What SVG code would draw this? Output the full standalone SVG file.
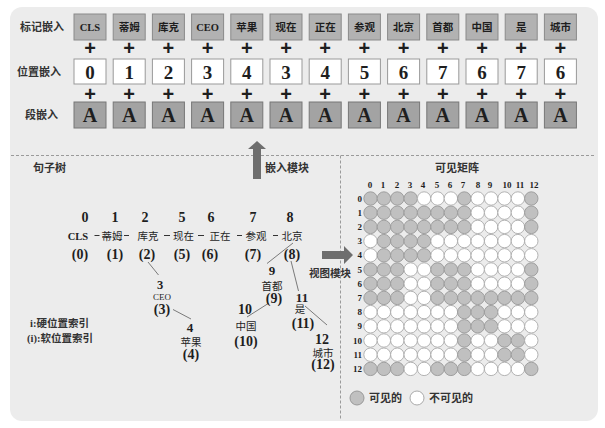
<svg xmlns="http://www.w3.org/2000/svg" xmlns:xlink="http://www.w3.org/1999/xlink" width="605" height="428" viewBox="0 0 605 428">
<style>
text{font-family:"Liberation Serif","Noto Sans CJK SC",serif;fill:#1e1e1e}
.lab{font-size:11px;font-weight:bold;fill:#333}
.tok{fill:#b2b2b2;stroke:#8a8a8a;stroke-width:1}
.pos{fill:#fff;stroke:#999;stroke-width:1}
.seg{fill:#a3a3a3;stroke:#777;stroke-width:1}
.tt{font-size:10.5px;font-weight:bold;text-anchor:middle}
.pt{font-size:19px;font-weight:bold;text-anchor:middle}
.st{font-size:20px;font-weight:bold;text-anchor:middle}
.plus{font-family:"Liberation Sans",sans-serif;font-size:20px;font-weight:bold;text-anchor:middle}
.hi{font-size:14px;font-weight:bold;text-anchor:middle}
.wd{font-size:10.5px;text-anchor:middle}
.si{font-size:14px;font-weight:bold;text-anchor:middle}
.edge{stroke:#7a7a7a;stroke-width:1;fill:none}
.dash{stroke:#333;stroke-width:1}
.div{stroke:#9a9a9a;stroke-width:1;stroke-dasharray:3 2;fill:none}
.arr{fill:#6e6e6e}
.ml{font-size:9px;font-weight:bold;text-anchor:middle}
.rl{font-size:9px;font-weight:bold;text-anchor:end}
</style>
<defs>
<circle id="G" r="6.7" fill="#c0c0c0" stroke="#999" stroke-width="0.9"/>
<circle id="W" r="6.7" fill="#fff" stroke="#aaa" stroke-width="0.9"/>
</defs>
<rect x="10" y="7" width="588" height="414" rx="12" fill="#ececec"/>

<!-- embedding rows -->
<g id="labels">
<text class="lab" x="20" y="31">标记嵌入</text>
<text class="lab" x="17" y="76">位置嵌入</text>
<text class="lab" x="25" y="119">段嵌入</text>
</g>
<g id="token-row">
<g id="tok0"><rect class="tok" x="74" y="14" width="32" height="26"/><text class="tt" x="90" y="31">CLS</text></g>
<g id="tok1"><rect class="tok" x="113.2" y="14" width="32" height="26"/><text class="tt" x="129.2" y="31">蒂姆</text></g>
<g id="tok2"><rect class="tok" x="152.4" y="14" width="32" height="26"/><text class="tt" x="168.4" y="31">库克</text></g>
<g id="tok3"><rect class="tok" x="191.6" y="14" width="32" height="26"/><text class="tt" x="207.6" y="31">CEO</text></g>
<g id="tok4"><rect class="tok" x="230.8" y="14" width="32" height="26"/><text class="tt" x="246.8" y="31">苹果</text></g>
<g id="tok5"><rect class="tok" x="270" y="14" width="32" height="26"/><text class="tt" x="286" y="31">现在</text></g>
<g id="tok6"><rect class="tok" x="309.2" y="14" width="32" height="26"/><text class="tt" x="325.2" y="31">正在</text></g>
<g id="tok7"><rect class="tok" x="348.4" y="14" width="32" height="26"/><text class="tt" x="364.4" y="31">参观</text></g>
<g id="tok8"><rect class="tok" x="387.6" y="14" width="32" height="26"/><text class="tt" x="403.6" y="31">北京</text></g>
<g id="tok9"><rect class="tok" x="426.8" y="14" width="32" height="26"/><text class="tt" x="442.8" y="31">首都</text></g>
<g id="tok10"><rect class="tok" x="466" y="14" width="32" height="26"/><text class="tt" x="482" y="31">中国</text></g>
<g id="tok11"><rect class="tok" x="505.2" y="14" width="32" height="26"/><text class="tt" x="521.2" y="31">是</text></g>
<g id="tok12"><rect class="tok" x="544.4" y="14" width="32" height="26"/><text class="tt" x="560.4" y="31">城市</text></g>
</g>
<g id="plus-row1">
<text class="plus" x="90" y="55">+</text><text class="plus" x="129.2" y="55">+</text><text class="plus" x="168.4" y="55">+</text><text class="plus" x="207.6" y="55">+</text><text class="plus" x="246.8" y="55">+</text><text class="plus" x="286" y="55">+</text><text class="plus" x="325.2" y="55">+</text><text class="plus" x="364.4" y="55">+</text><text class="plus" x="403.6" y="55">+</text><text class="plus" x="442.8" y="55">+</text><text class="plus" x="482" y="55">+</text><text class="plus" x="521.2" y="55">+</text><text class="plus" x="560.4" y="55">+</text>
</g>
<g id="pos-row">
<g id="pos0"><rect class="pos" x="74" y="59" width="32" height="25"/><text class="pt" x="90" y="78.5">0</text></g>
<g id="pos1"><rect class="pos" x="113.2" y="59" width="32" height="25"/><text class="pt" x="129.2" y="78.5">1</text></g>
<g id="pos2"><rect class="pos" x="152.4" y="59" width="32" height="25"/><text class="pt" x="168.4" y="78.5">2</text></g>
<g id="pos3"><rect class="pos" x="191.6" y="59" width="32" height="25"/><text class="pt" x="207.6" y="78.5">3</text></g>
<g id="pos4"><rect class="pos" x="230.8" y="59" width="32" height="25"/><text class="pt" x="246.8" y="78.5">4</text></g>
<g id="pos5"><rect class="pos" x="270" y="59" width="32" height="25"/><text class="pt" x="286" y="78.5">3</text></g>
<g id="pos6"><rect class="pos" x="309.2" y="59" width="32" height="25"/><text class="pt" x="325.2" y="78.5">4</text></g>
<g id="pos7"><rect class="pos" x="348.4" y="59" width="32" height="25"/><text class="pt" x="364.4" y="78.5">5</text></g>
<g id="pos8"><rect class="pos" x="387.6" y="59" width="32" height="25"/><text class="pt" x="403.6" y="78.5">6</text></g>
<g id="pos9"><rect class="pos" x="426.8" y="59" width="32" height="25"/><text class="pt" x="442.8" y="78.5">7</text></g>
<g id="pos10"><rect class="pos" x="466" y="59" width="32" height="25"/><text class="pt" x="482" y="78.5">6</text></g>
<g id="pos11"><rect class="pos" x="505.2" y="59" width="32" height="25"/><text class="pt" x="521.2" y="78.5">7</text></g>
<g id="pos12"><rect class="pos" x="544.4" y="59" width="32" height="25"/><text class="pt" x="560.4" y="78.5">6</text></g>
</g>
<g id="plus-row2">
<text class="plus" x="90" y="101">+</text><text class="plus" x="129.2" y="101">+</text><text class="plus" x="168.4" y="101">+</text><text class="plus" x="207.6" y="101">+</text><text class="plus" x="246.8" y="101">+</text><text class="plus" x="286" y="101">+</text><text class="plus" x="325.2" y="101">+</text><text class="plus" x="364.4" y="101">+</text><text class="plus" x="403.6" y="101">+</text><text class="plus" x="442.8" y="101">+</text><text class="plus" x="482" y="101">+</text><text class="plus" x="521.2" y="101">+</text><text class="plus" x="560.4" y="101">+</text>
</g>
<g id="seg-row">
<g id="seg0"><rect class="seg" x="74" y="102" width="32" height="26"/><text class="st" x="90" y="122">A</text></g>
<g id="seg1"><rect class="seg" x="113.2" y="102" width="32" height="26"/><text class="st" x="129.2" y="122">A</text></g>
<g id="seg2"><rect class="seg" x="152.4" y="102" width="32" height="26"/><text class="st" x="168.4" y="122">A</text></g>
<g id="seg3"><rect class="seg" x="191.6" y="102" width="32" height="26"/><text class="st" x="207.6" y="122">A</text></g>
<g id="seg4"><rect class="seg" x="230.8" y="102" width="32" height="26"/><text class="st" x="246.8" y="122">A</text></g>
<g id="seg5"><rect class="seg" x="270" y="102" width="32" height="26"/><text class="st" x="286" y="122">A</text></g>
<g id="seg6"><rect class="seg" x="309.2" y="102" width="32" height="26"/><text class="st" x="325.2" y="122">A</text></g>
<g id="seg7"><rect class="seg" x="348.4" y="102" width="32" height="26"/><text class="st" x="364.4" y="122">A</text></g>
<g id="seg8"><rect class="seg" x="387.6" y="102" width="32" height="26"/><text class="st" x="403.6" y="122">A</text></g>
<g id="seg9"><rect class="seg" x="426.8" y="102" width="32" height="26"/><text class="st" x="442.8" y="122">A</text></g>
<g id="seg10"><rect class="seg" x="466" y="102" width="32" height="26"/><text class="st" x="482" y="122">A</text></g>
<g id="seg11"><rect class="seg" x="505.2" y="102" width="32" height="26"/><text class="st" x="521.2" y="122">A</text></g>
<g id="seg12"><rect class="seg" x="544.4" y="102" width="32" height="26"/><text class="st" x="560.4" y="122">A</text></g>
</g>

<!-- dividers -->
<g id="dividers">
<path class="div" d="M11 155.5H596M340.5 155.5V420"/>
</g>

<!-- module arrows -->
<g id="embed-module">
<polygon class="arr" points="253,179 261,179 261,149 266,149 257,141 248,149 253,149"/>
<text class="lab" x="265" y="172">嵌入模块</text>
</g>
<g id="view-module">
<polygon class="arr" points="322,251 344,251 344,246 353,255 344,264 344,259 322,259"/>
<text class="lab" x="309" y="277" style="font-size:10.5px">视图模块</text>
</g>

<text class="lab" x="33" y="172">句子树</text>

<!-- connectors of the sentence tree -->
<g id="connectors">
<path class="dash" d="M94.5 235.5H99.5M124 235.5H129M164 235.5H170M198 235.5H204M237 235.5H242M273 235.5H278"/>
<path class="edge" d="M148 262L158.5 275"/>
<path class="edge" d="M173 309.5L191 319"/>
<path class="edge" d="M293 243L267 263.5"/>
<path class="edge" d="M269 303L247 317"/>
<path class="edge" d="M291 261L298.5 291"/>
<path class="edge" d="M305 306L327 325"/>
</g>

<!-- tree nodes -->
<g id="n0"><text class="hi" x="85" y="222">0</text><text class="wd" x="78" y="240" style="font-weight:bold">CLS</text><text class="si" x="80" y="259">(0)</text></g>
<g id="n1"><text class="hi" x="115" y="222">1</text><text class="wd" x="112" y="240">蒂姆</text><text class="si" x="115" y="259">(1)</text></g>
<g id="n2"><text class="hi" x="145" y="222">2</text><text class="wd" x="148" y="240">库克</text><text class="si" x="147" y="259">(2)</text></g>
<g id="n5"><text class="hi" x="182" y="222">5</text><text class="wd" x="183.5" y="240">现在</text><text class="si" x="182" y="259">(5)</text></g>
<g id="n6"><text class="hi" x="211" y="222">6</text><text class="wd" x="220" y="240">正在</text><text class="si" x="210" y="259">(6)</text></g>
<g id="n7"><text class="hi" x="253" y="222">7</text><text class="wd" x="256" y="240">参观</text><text class="si" x="253" y="259">(7)</text></g>
<g id="n8"><text class="hi" x="290" y="222">8</text><text class="wd" x="292" y="240">北京</text><text class="si" x="292" y="259">(8)</text></g>
<g id="n3"><text class="hi" x="160" y="289" style="font-size:12.5px">3</text><text class="wd" x="162" y="300" style="font-size:9px">CEO</text><text class="si" x="162" y="314">(3)</text></g>
<g id="n4"><text class="hi" x="190" y="332" style="font-size:13px">4</text><text class="wd" x="191" y="345.5">苹果</text><text class="si" x="191" y="359">(4)</text></g>
<g id="n9"><text class="hi" x="272" y="275" style="font-size:13px">9</text><text class="wd" x="272" y="290">首都</text><text class="si" x="274" y="303">(9)</text></g>
<g id="n10"><text class="hi" x="245" y="313.5">10</text><text class="wd" x="246" y="329.5">中国</text><text class="si" x="246" y="346">(10)</text></g>
<g id="n11"><text class="hi" x="302" y="301.5" style="font-size:13px">11</text><text class="wd" x="300" y="313">是</text><text class="si" x="303" y="327.5">(11)</text></g>
<g id="n12"><text class="hi" x="322" y="343.5">12</text><text class="wd" x="323" y="356.5">城市</text><text class="si" x="323" y="369">(12)</text></g>

<g id="legend-index">
<text class="lab" x="30" y="327" style="font-size:10.5px">i:硬位置索引</text>
<text class="lab" x="27" y="342" style="font-size:10.5px">(i):软位置索引</text>
</g>

<!-- visible matrix -->
<g id="matrix">
<text class="lab" x="457" y="172" text-anchor="middle">可见矩阵</text>
<g id="col-labels">
<text class="ml" x="370" y="188">0</text><text class="ml" x="383" y="188">1</text><text class="ml" x="397" y="188">2</text><text class="ml" x="410" y="188">3</text><text class="ml" x="423" y="188">4</text><text class="ml" x="437" y="188">5</text><text class="ml" x="450" y="188">6</text><text class="ml" x="463" y="188">7</text><text class="ml" x="478" y="188">8</text><text class="ml" x="490" y="188">9</text><text class="ml" x="507" y="188">10</text><text class="ml" x="520" y="188">11</text><text class="ml" x="534" y="188">12</text>
</g>
<g id="row-labels">
<text class="rl" x="362" y="201.5">0</text><text class="rl" x="362" y="215.7">1</text><text class="rl" x="362" y="229.9">2</text><text class="rl" x="362" y="244.1">3</text><text class="rl" x="362" y="258.3">4</text><text class="rl" x="362" y="272.5">5</text><text class="rl" x="362" y="286.7">6</text><text class="rl" x="362" y="300.9">7</text><text class="rl" x="362" y="315.1">8</text><text class="rl" x="362" y="329.3">9</text><text class="rl" x="362" y="343.5">10</text><text class="rl" x="362" y="357.7">11</text><text class="rl" x="362" y="371.9">12</text>
</g>
<g id="r0" transform="translate(0,198.5)"><use href="#G" x="370.5"/><use href="#G" x="383.9"/><use href="#G" x="397.3"/><use href="#G" x="410.7"/><use href="#W" x="424.1"/><use href="#W" x="437.5"/><use href="#W" x="450.9"/><use href="#G" x="464.3"/><use href="#W" x="477.7"/><use href="#W" x="491.1"/><use href="#W" x="504.5"/><use href="#W" x="517.9"/><use href="#G" x="531.3"/></g>
<g id="r1" transform="translate(0,212.7)"><use href="#G" x="370.5"/><use href="#G" x="383.9"/><use href="#G" x="397.3"/><use href="#G" x="410.7"/><use href="#G" x="424.1"/><use href="#G" x="437.5"/><use href="#G" x="450.9"/><use href="#G" x="464.3"/><use href="#W" x="477.7"/><use href="#W" x="491.1"/><use href="#W" x="504.5"/><use href="#W" x="517.9"/><use href="#G" x="531.3"/></g>
<g id="r2" transform="translate(0,226.9)"><use href="#G" x="370.5"/><use href="#G" x="383.9"/><use href="#G" x="397.3"/><use href="#G" x="410.7"/><use href="#G" x="424.1"/><use href="#G" x="437.5"/><use href="#G" x="450.9"/><use href="#G" x="464.3"/><use href="#W" x="477.7"/><use href="#W" x="491.1"/><use href="#W" x="504.5"/><use href="#W" x="517.9"/><use href="#G" x="531.3"/></g>
<g id="r3" transform="translate(0,241.1)"><use href="#W" x="370.5"/><use href="#G" x="383.9"/><use href="#G" x="397.3"/><use href="#G" x="410.7"/><use href="#G" x="424.1"/><use href="#W" x="437.5"/><use href="#W" x="450.9"/><use href="#W" x="464.3"/><use href="#W" x="477.7"/><use href="#W" x="491.1"/><use href="#W" x="504.5"/><use href="#W" x="517.9"/><use href="#W" x="531.3"/></g>
<g id="r4" transform="translate(0,255.3)"><use href="#W" x="370.5"/><use href="#G" x="383.9"/><use href="#G" x="397.3"/><use href="#G" x="410.7"/><use href="#G" x="424.1"/><use href="#W" x="437.5"/><use href="#W" x="450.9"/><use href="#W" x="464.3"/><use href="#W" x="477.7"/><use href="#W" x="491.1"/><use href="#W" x="504.5"/><use href="#W" x="517.9"/><use href="#W" x="531.3"/></g>
<g id="r5" transform="translate(0,269.5)"><use href="#G" x="370.5"/><use href="#G" x="383.9"/><use href="#G" x="397.3"/><use href="#W" x="410.7"/><use href="#W" x="424.1"/><use href="#G" x="437.5"/><use href="#G" x="450.9"/><use href="#G" x="464.3"/><use href="#W" x="477.7"/><use href="#W" x="491.1"/><use href="#W" x="504.5"/><use href="#W" x="517.9"/><use href="#G" x="531.3"/></g>
<g id="r6" transform="translate(0,283.7)"><use href="#G" x="370.5"/><use href="#G" x="383.9"/><use href="#G" x="397.3"/><use href="#W" x="410.7"/><use href="#W" x="424.1"/><use href="#G" x="437.5"/><use href="#G" x="450.9"/><use href="#G" x="464.3"/><use href="#W" x="477.7"/><use href="#W" x="491.1"/><use href="#W" x="504.5"/><use href="#W" x="517.9"/><use href="#G" x="531.3"/></g>
<g id="r7" transform="translate(0,297.9)"><use href="#G" x="370.5"/><use href="#G" x="383.9"/><use href="#G" x="397.3"/><use href="#W" x="410.7"/><use href="#W" x="424.1"/><use href="#G" x="437.5"/><use href="#G" x="450.9"/><use href="#G" x="464.3"/><use href="#G" x="477.7"/><use href="#G" x="491.1"/><use href="#G" x="504.5"/><use href="#G" x="517.9"/><use href="#G" x="531.3"/></g>
<g id="r8" transform="translate(0,312.1)"><use href="#W" x="370.5"/><use href="#W" x="383.9"/><use href="#W" x="397.3"/><use href="#W" x="410.7"/><use href="#W" x="424.1"/><use href="#W" x="437.5"/><use href="#W" x="450.9"/><use href="#G" x="464.3"/><use href="#G" x="477.7"/><use href="#G" x="491.1"/><use href="#W" x="504.5"/><use href="#W" x="517.9"/><use href="#W" x="531.3"/></g>
<g id="r9" transform="translate(0,326.3)"><use href="#W" x="370.5"/><use href="#W" x="383.9"/><use href="#W" x="397.3"/><use href="#W" x="410.7"/><use href="#W" x="424.1"/><use href="#W" x="437.5"/><use href="#W" x="450.9"/><use href="#G" x="464.3"/><use href="#G" x="477.7"/><use href="#G" x="491.1"/><use href="#W" x="504.5"/><use href="#W" x="517.9"/><use href="#W" x="531.3"/></g>
<g id="r10" transform="translate(0,340.5)"><use href="#W" x="370.5"/><use href="#W" x="383.9"/><use href="#W" x="397.3"/><use href="#W" x="410.7"/><use href="#W" x="424.1"/><use href="#W" x="437.5"/><use href="#W" x="450.9"/><use href="#G" x="464.3"/><use href="#W" x="477.7"/><use href="#W" x="491.1"/><use href="#G" x="504.5"/><use href="#G" x="517.9"/><use href="#W" x="531.3"/></g>
<g id="r11" transform="translate(0,354.7)"><use href="#W" x="370.5"/><use href="#W" x="383.9"/><use href="#W" x="397.3"/><use href="#W" x="410.7"/><use href="#W" x="424.1"/><use href="#W" x="437.5"/><use href="#W" x="450.9"/><use href="#G" x="464.3"/><use href="#W" x="477.7"/><use href="#W" x="491.1"/><use href="#G" x="504.5"/><use href="#G" x="517.9"/><use href="#W" x="531.3"/></g>
<g id="r12" transform="translate(0,368.9)"><use href="#G" x="370.5"/><use href="#G" x="383.9"/><use href="#G" x="397.3"/><use href="#W" x="410.7"/><use href="#W" x="424.1"/><use href="#G" x="437.5"/><use href="#G" x="450.9"/><use href="#G" x="464.3"/><use href="#W" x="477.7"/><use href="#W" x="491.1"/><use href="#W" x="504.5"/><use href="#W" x="517.9"/><use href="#G" x="531.3"/></g>
</g>

<g id="legend-matrix">
<circle cx="357" cy="398" r="7" fill="#c0c0c0" stroke="#999"/>
<text class="lab" x="369" y="402">可见的</text>
<circle cx="417" cy="398" r="7" fill="#fff" stroke="#aaa"/>
<text class="lab" x="429" y="402">不可见的</text>
</g>
</svg>
